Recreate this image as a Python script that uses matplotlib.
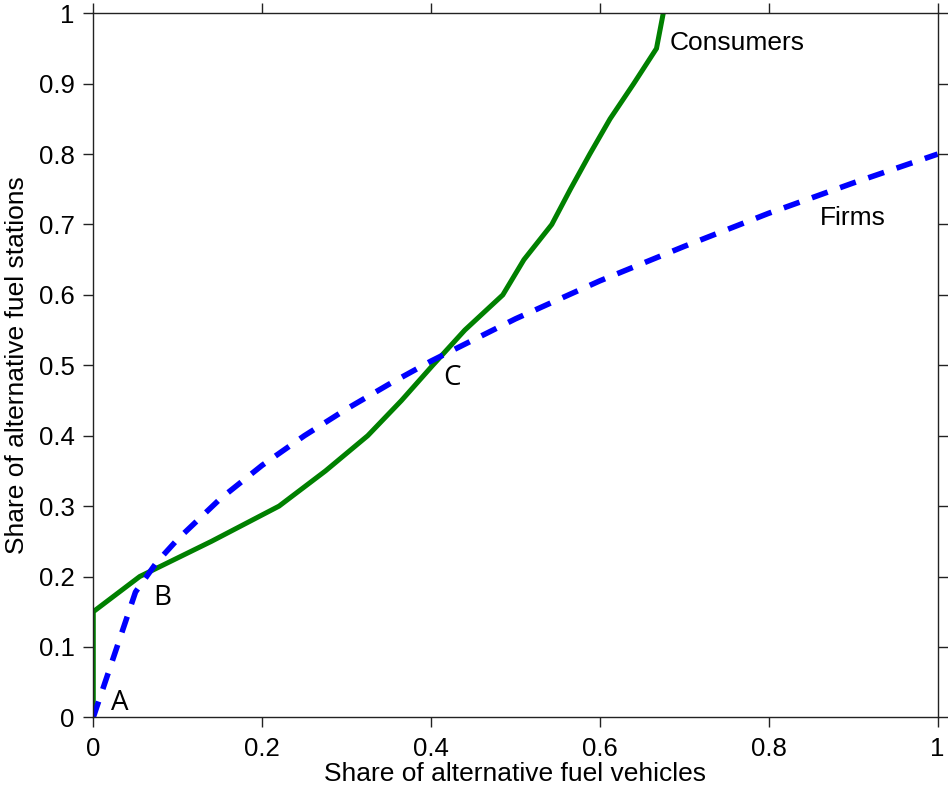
import matplotlib
matplotlib.use("Agg")
import matplotlib.pyplot as plt
from matplotlib.ticker import FormatStrFormatter

plt.rcParams["font.family"] = ["Liberation Sans", "DejaVu Sans"]
plt.rcParams["lines.scale_dashes"] = False

# Consumer adoption curve: share of vehicles needed for a given share of stations
consumers_x = [0, 0, 0.055, 0.14, 0.22, 0.275, 0.325, 0.365, 0.402, 0.44,
               0.485, 0.51, 0.543, 0.565, 0.588, 0.612, 0.64, 0.667, 0.675]
consumers_y = [0, 0.15, 0.20, 0.25, 0.30, 0.35, 0.40, 0.45, 0.50, 0.55,
               0.60, 0.65, 0.70, 0.75, 0.80, 0.85, 0.90, 0.95, 1.00]

# Firms' station supply response
firms_x = [0, 0.05, 0.075, 0.1, 0.15, 0.2, 0.25, 0.3, 0.35, 0.4,
           0.5, 0.6, 0.7, 0.8, 0.9, 1.0]
firms_y = [0, 0.178, 0.22, 0.253, 0.31, 0.358, 0.40, 0.438, 0.473, 0.506,
           0.566, 0.62, 0.669, 0.716, 0.759, 0.80]

ticks_x = [0, 0.2, 0.4, 0.6, 0.8, 1.0]
ticks_y = [0, 0.1, 0.2, 0.3, 0.4, 0.5, 0.6, 0.7, 0.8, 0.9, 1.0]

# Equilibrium point labels
point_labels = ["A", "B", "C"]
point_x = [0.021, 0.071, 0.414]
point_y = [0.010, 0.160, 0.472]

fig = plt.figure(figsize=(9.48, 7.95), dpi=100)
ax = fig.add_axes([0.0984, 0.0977, 0.8907, 0.8856])

ax.plot(consumers_x, consumers_y, color="#008000", lw=3.6, solid_joinstyle="miter")
firms_line, = ax.plot(firms_x, firms_y, color="#0000ff", lw=4.0)
firms_line.set_dashes([12, 9.5])

ax.set_xlim(0, 1)
ax.set_ylim(0, 1)
ax.set_xticks(ticks_x)
ax.set_yticks(ticks_y)
ax.xaxis.set_major_formatter(FormatStrFormatter("%g"))
ax.yaxis.set_major_formatter(FormatStrFormatter("%g"))
ax.tick_params(direction="out", length=7.5, width=1.0, labelsize=18.5,
               top=True, right=True, color="#222222")
ax.tick_params(axis="x", pad=7)
ax.tick_params(axis="y", pad=6)
for s in ax.spines.values():
    s.set_linewidth(1.0)
    s.set_color("#222222")

ax.set_xlabel("Share of alternative fuel vehicles", fontsize=19, labelpad=0.5)
ax.set_ylabel("Share of alternative fuel stations", fontsize=19, labelpad=7)

ax.text(0.683, 0.948, "Consumers", fontsize=19, ha="left", va="baseline")
ax.text(0.861, 0.699, "Firms", fontsize=19, ha="left", va="baseline")

for lab, px, py in zip(point_labels, point_x, point_y):
    ax.text(px, py, lab, fontsize=20, family=["Open Sans", "DejaVu Sans"],
            ha="left", va="baseline")

fig.savefig("out.png", dpi=100)
